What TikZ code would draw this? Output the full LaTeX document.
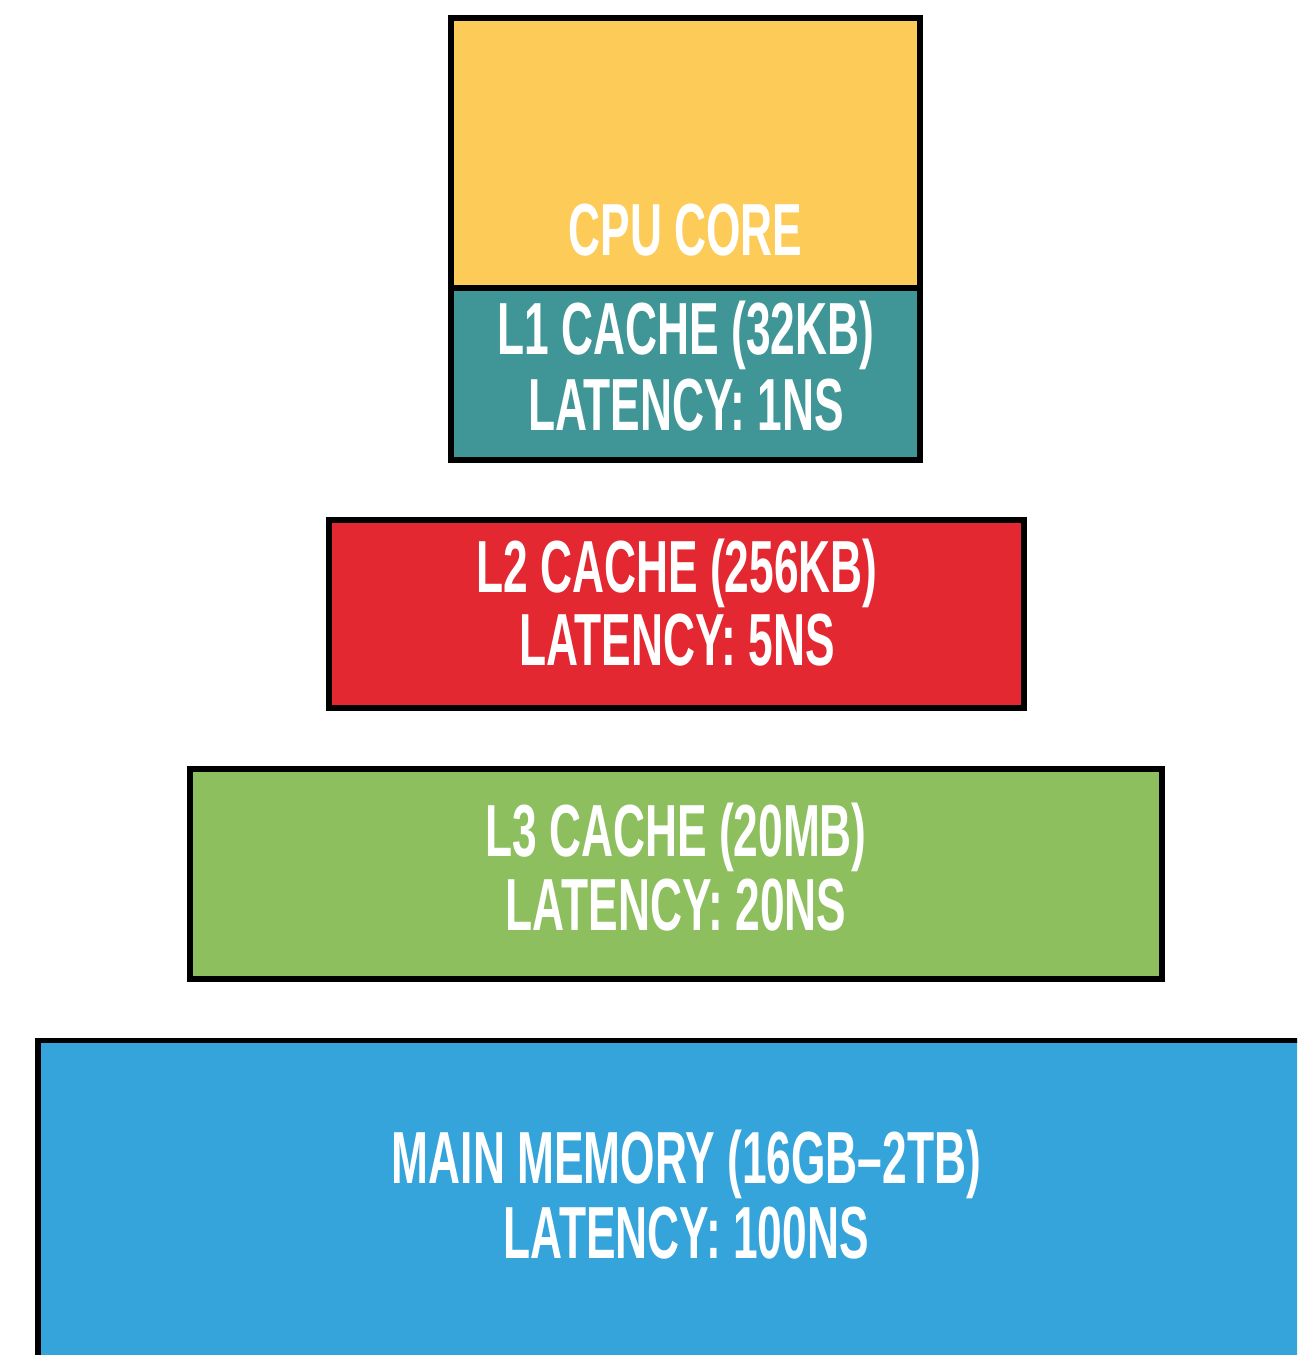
\documentclass[tikz,border=0pt]{standalone}
\usepackage{fontspec}
\setmainfont[FakeStretch=0.6]{Liberation Sans}

\definecolor{coreyellow}{HTML}{FDCB58}
\definecolor{lonecolor}{HTML}{409696}
\definecolor{ltwocolor}{HTML}{E32832}
\definecolor{lthreecolor}{HTML}{8DBF5F}
\definecolor{memcolor}{HTML}{35A4DA}

\tikzset{
  level/.style={draw=black, line width=1.6pt, rectangle, inner sep=0pt, outer sep=0pt},
  caption/.style={text=white, font=\fontsize{21}{21}\selectfont\bfseries, inner sep=0pt, anchor=base}
}

\begin{document}
\begin{tikzpicture}[x=0.01cm, y=-0.01cm]
  \useasboundingbox (0,0) rectangle (1297,1355);
  \begin{scope}
    \clip (0,0) rectangle (1297,1355);

    % memory hierarchy levels, top to bottom
    \node[level, fill=coreyellow,  minimum width=4.69cm, minimum height=2.70cm] (core) at (685.5,153) {};
    \node[level, fill=lonecolor,   minimum width=4.69cm, minimum height=1.72cm] (lone) at (685.5,374) {};
    \node[level, fill=ltwocolor,   minimum width=6.94cm, minimum height=1.88cm] (ltwo) at (676.5,614) {};
    \node[level, fill=lthreecolor, minimum width=9.72cm, minimum height=2.10cm] (lthree) at (676,874) {};
    \node[level, fill=memcolor,    minimum width=12.95cm, minimum height=3.60cm] (mem) at (686,1220.5) {};

    % captions, one node per line
    \node[caption] (coretext) at (685.5,256) {CPU CORE};
    \node[caption] (lonea) at (686,355) {L1 CACHE (32KB)};
    \node[caption] (loneb) at (686,430) {LATENCY: 1NS};
    \node[caption] (ltwoa) at (677,592) {L2 CACHE (256KB)};
    \node[caption] (ltwob) at (677,665) {LATENCY: 5NS};
    \node[caption] (lthreea) at (676,856) {L3 CACHE (20MB)};
    \node[caption] (lthreeb) at (676,930) {LATENCY: 20NS};
    \node[caption] (mema) at (686.5,1183) {MAIN MEMORY (16GB–2TB)};
    \node[caption] (memb) at (686,1258) {LATENCY: 100NS};
  \end{scope}
\end{tikzpicture}
\end{document}
